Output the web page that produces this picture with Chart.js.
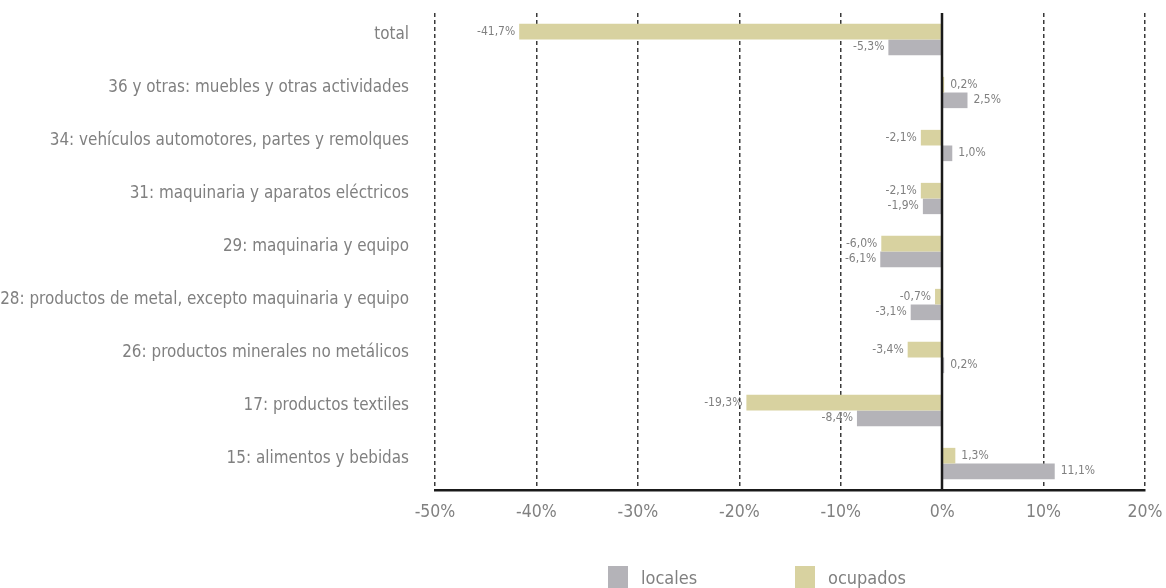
<!DOCTYPE html>
<html>
<head>
<meta charset="utf-8">
<script src="https://cdn.jsdelivr.net/npm/chart.js@4"></script>
<style>
  html, body { margin: 0; padding: 0; background: #fff; }
  #wrap { position: relative; width: 1166px; height: 588px; }
  #legend { position: absolute; left: 608px; top: 566px; display: flex; }
  .item { display: flex; align-items: center; width: 187px; height: 22px; }
  .swatch { width: 20px; height: 22px; margin-right: 13px; }
  .item span { font: 18px 'Liberation Sans Narrow', 'DejaVu Sans Condensed', sans-serif; color: #808080; }
</style>
</head>
<body>
<div id="wrap">
  <canvas id="chart" width="1166" height="588"></canvas>
  <div id="legend"></div>
</div>
<script>
const FONT = "'Liberation Sans Narrow', 'DejaVu Sans Condensed', sans-serif";

// sectors, top to bottom
const categories = [
    'total',
    '36 y otras: muebles y otras actividades',
    '34: vehículos automotores, partes y remolques',
    '31: maquinaria y aparatos eléctricos',
    '29: maquinaria y equipo',
    '28: productos de metal, excepto maquinaria y equipo',
    '26: productos minerales no metálicos',
    '17: productos textiles',
    '15: alimentos y bebidas'
];

// % change
const ocupados = [-41.7, 0.2, -2.1, -2.1, -6.0, -0.7, -3.4, -19.3, 1.3];
const locales = [-5.3, 2.5, 1.0, -1.9, -6.1, -3.1, 0.2, -8.4, 11.1];

const xTicks = [-50, -40, -30, -20, -10, 0, 10, 20];

const colorLocales = '#b4b3b8';
const colorOcupados = '#d8d2a0';
const textGrey = '#808080';

function fmtPct(v) {
    return v.toFixed(1).replace('.', ',') + '%';
}

// zero line and value labels next to the end of each bar
const valueLabels = {
    id: 'valueLabels',
    afterDatasetsDraw(chart) {
        const ctx = chart.ctx;
        const x = chart.scales.x;
        const area = chart.chartArea;

        const x0 = Math.round(x.getPixelForValue(0));
        ctx.save();
        ctx.strokeStyle = '#1a1a1a';
        ctx.lineWidth = 2.5;
        ctx.beginPath();
        ctx.moveTo(x0, area.top);
        ctx.lineTo(x0, area.bottom);
        ctx.stroke();

        ctx.font = '12px ' + FONT;
        ctx.fillStyle = textGrey;
        ctx.textBaseline = 'middle';
        chart.data.datasets.forEach((ds, i) => {
            chart.getDatasetMeta(i).data.forEach((bar, j) => {
                const v = ds.data[j];
                if (v < 0) {
                    ctx.textAlign = 'right';
                    ctx.fillText(fmtPct(v), bar.x - 4, bar.y);
                } else {
                    ctx.textAlign = 'left';
                    ctx.fillText(fmtPct(v), bar.x + 6, bar.y);
                }
            });
        });
        ctx.restore();
    }
};

const chart = new Chart(document.getElementById('chart'), {
    type: 'bar',
    data: {
        labels: categories,
        datasets: [
            { label: 'ocupados', data: ocupados, backgroundColor: colorOcupados },
            { label: 'locales', data: locales, backgroundColor: colorLocales }
        ]
    },
    options: {
        indexAxis: 'y',
        responsive: false,
        animation: false,
        barPercentage: 1,
        categoryPercentage: 0.59,
        layout: { padding: { top: 13, bottom: 58, left: 0, right: 21 } },
        plugins: {
            legend: { display: false },
            tooltip: { enabled: false }
        },
        scales: {
            x: {
                min: -50,
                max: 20,
                afterBuildTicks: s => { s.ticks = xTicks.map(v => ({ value: v })); },
                afterFit: s => {
                    s.height = 40;
                    s.paddingLeft = 0;
                    s.paddingRight = 0;
                },
                grid: {
                    drawTicks: false,
                    color: c => c.tick && c.tick.value === 0 ? 'rgba(0,0,0,0)' : '#3a3a3a',
                    lineWidth: 1.5
                },
                border: { display: true, color: '#1a1a1a', width: 2.5, dash: [4, 3] },
                ticks: {
                    padding: 12,
                    color: textGrey,
                    font: { family: FONT, size: 17.5 },
                    callback: v => v + '%'
                }
            },
            y: {
                afterFit: s => {
                    s.width = 435;
                    s.paddingTop = 0;
                    s.paddingBottom = 0;
                },
                grid: { display: false },
                border: { display: false },
                ticks: {
                    padding: 18,
                    labelOffset: -5,
                    color: textGrey,
                    font: { family: FONT, size: 16.9 }
                }
            }
        }
    },
    plugins: [valueLabels]
});

// legend: locales first, then ocupados
const legend = document.getElementById('legend');
[['locales', colorLocales], ['ocupados', colorOcupados]].forEach(([name, color]) => {
    const item = document.createElement('div');
    item.className = 'item';
    item.innerHTML = `<div class="swatch" style="background:${color}"></div><span>${name}</span>`;
    legend.appendChild(item);
});
</script>
</body>
</html>
